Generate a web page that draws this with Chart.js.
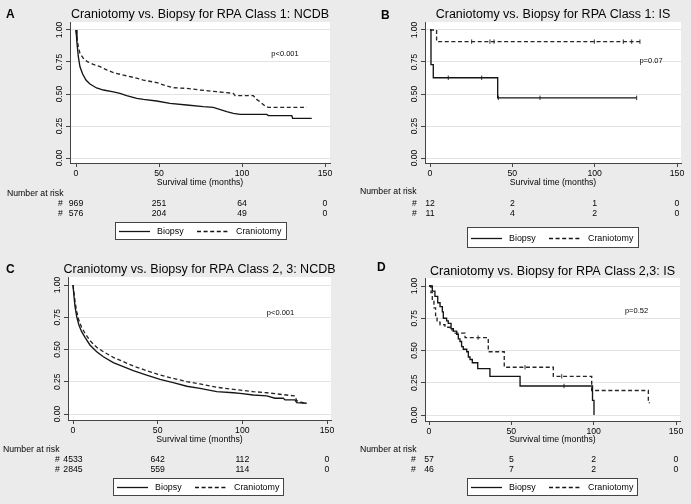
<!DOCTYPE html>
<html>
<head>
<meta charset="utf-8">
<script src="https://cdn.jsdelivr.net/npm/chart.js@4.4.1/dist/chart.umd.min.js"></script>
<style>
html, body { margin: 0; padding: 0; background: #ebebeb; }
#wrap { position: relative; width: 691px; height: 504px; overflow: hidden; }
canvas { position: absolute; }
</style>
</head>
<body>
<div id="wrap">
  <canvas id="pA" width="345" height="252" style="left:0;top:0"></canvas>
  <canvas id="pB" width="346" height="252" style="left:345px;top:0"></canvas>
  <canvas id="pC" width="345" height="252" style="left:0;top:252px"></canvas>
  <canvas id="pD" width="346" height="252" style="left:345px;top:252px"></canvas>
</div>
<script>
// shared axis ticks
const xTicks = [0, 50, 100, 150];
const yTicks = [0, 0.25, 0.5, 0.75, 1];
const seriesNames = ['Biopsy', 'Craniotomy'];

// Panel A - RPA class 1, NCDB
const aBiopsyT = [0, 0.6, 1.4, 2.4, 4.0, 6.0, 8.4, 12.4, 16.5, 22.5, 26.5, 30.5, 36.6, 40.6, 48.6, 56.6, 66.7, 76.7, 82.7, 90.8, 94.8, 98.8, 114.9, 115.9, 130, 130.5, 142];
const aBiopsyS = [1, 0.896, 0.792, 0.713, 0.656, 0.609, 0.578, 0.547, 0.531, 0.516, 0.505, 0.487, 0.466, 0.458, 0.445, 0.427, 0.414, 0.401, 0.396, 0.362, 0.349, 0.341, 0.341, 0.331, 0.331, 0.31, 0.31];
const aCranioT = [0, 0.6, 1.4, 2.4, 4.4, 6.8, 10.4, 14.5, 18.5, 22.5, 28.5, 34.5, 40.6, 48.6, 54.6, 58.6, 66.7, 74.7, 84.7, 94.8, 95.8, 106.8, 108.8, 110.8, 113.9, 115.9, 139];
const aCranioS = [1, 0.935, 0.87, 0.818, 0.779, 0.753, 0.732, 0.713, 0.688, 0.667, 0.648, 0.63, 0.609, 0.589, 0.563, 0.549, 0.544, 0.531, 0.518, 0.505, 0.487, 0.487, 0.458, 0.44, 0.406, 0.396, 0.396];
const aRisk = [[969, 251, 64, 0], [576, 204, 49, 0]];

// Panel B - RPA class 1, IS
const bBiopsyT = [0, 0.6, 2.0, 41.1, 125.5];
const bBiopsyS = [1, 0.73, 0.627, 0.47, 0.47];
const bBiopsyCensT = [11.1, 31.4, 41.5, 66.8, 125.5];
const bBiopsyCensS = [0.627, 0.627, 0.47, 0.47, 0.47];
const bCranioT = [0, 4.0, 127.5];
const bCranioS = [1, 0.909, 0.909];
const bCranioCensT = [25.3, 36.4, 38.9, 99.8, 117.4, 122.5, 127.5];
const bCranioCensS = [0.909, 0.909, 0.909, 0.909, 0.909, 0.909, 0.909];
const bRisk = [[12, 2, 1, 0], [11, 4, 2, 0]];

// Panel C - RPA class 2,3, NCDB
const cBiopsyT = [0, 0.6, 1.2, 2.2, 3.5, 5.1, 7.1, 10, 14, 17.9, 23.8, 29.7, 35.6, 43.5, 51.4, 59.2, 67.2, 75, 84.9, 94.7, 98.6, 106.5, 114.4, 119.3, 124.2, 125.2, 131.1, 132.1, 138];
const cBiopsyS = [1, 0.91, 0.832, 0.754, 0.69, 0.638, 0.594, 0.535, 0.483, 0.444, 0.398, 0.367, 0.336, 0.302, 0.269, 0.243, 0.215, 0.199, 0.173, 0.165, 0.16, 0.147, 0.14, 0.122, 0.122, 0.109, 0.109, 0.088, 0.083];
const cCranioT = [0, 0.6, 1.2, 2.2, 3.5, 5.1, 7.1, 10, 14, 17.9, 23.8, 29.7, 35.6, 43.5, 51.4, 59.2, 67.2, 75, 84.9, 94.7, 106.5, 114.4, 126.2, 131.1, 132.1, 135.7, 138];
const cCranioS = [1, 0.935, 0.871, 0.793, 0.724, 0.672, 0.625, 0.569, 0.517, 0.483, 0.439, 0.406, 0.372, 0.336, 0.302, 0.276, 0.251, 0.233, 0.207, 0.191, 0.173, 0.165, 0.147, 0.14, 0.103, 0.088, 0.083];
const cRisk = [[4533, 642, 112, 0], [2845, 559, 114, 0]];

// Panel D - RPA class 2,3, IS
const dBiopsyT = [0, 2.0, 3.6, 5.3, 6.7, 8.1, 8.7, 10.7, 11.7, 13.4, 14.8, 16.8, 17.8, 18.8, 19.8, 20.8, 22.9, 23.9, 24.9, 26.3, 29.6, 37.0, 55.3, 99.3, 100.2];
const dBiopsyS = [1, 0.96, 0.92, 0.87, 0.84, 0.8, 0.75, 0.73, 0.71, 0.67, 0.65, 0.625, 0.59, 0.57, 0.53, 0.51, 0.49, 0.45, 0.43, 0.405, 0.36, 0.30, 0.225, 0.113, 0];
const dBiopsyCensT = [82.0];
const dBiopsyCensS = [0.225];
const dCranioT = [0, 1.2, 2.0, 3.0, 4.0, 4.9, 6.7, 9.7, 12.8, 14.8, 21.9, 36.0, 45.7, 75.5, 98.8, 133.2, 134];
const dCranioS = [1, 0.95, 0.89, 0.83, 0.77, 0.72, 0.70, 0.68, 0.66, 0.635, 0.60, 0.49, 0.37, 0.30, 0.19, 0.095, 0.095];
const dCranioCensT = [29.8, 58.3, 80.6];
const dCranioCensS = [0.60, 0.37, 0.30];
const dRisk = [[57, 5, 2, 0], [46, 7, 2, 0]];

const FONT = '"Liberation Sans", Arial, Helvetica, sans-serif';
const INK = '#050505';

function curve(t, s, dashed, stepped) {
    return {
        data: t.map((v, i) => ({ x: v, y: s[i] })),
        borderColor: dashed ? '#262626' : '#151515',
        borderWidth: 1.35,
        borderDash: dashed ? [4, 2.6] : [],
        pointRadius: 0,
        stepped: stepped ? 'before' : false,
        tension: 0,
        fill: false
    };
}

function censor(t, s) {
    return {
        data: t.map((v, i) => ({ x: v, y: s[i] })),
        showLine: false,
        pointStyle: 'line',
        pointRotation: 90,
        pointRadius: 2.2,
        pointBorderWidth: 1,
        pointBorderColor: '#333',
        pointBackgroundColor: '#333'
    };
}

// draws the white plot area, rotated y labels, titles, risk table and legend
const decor = {
    id: 'decor',
    beforeDraw(chart) {
        const { ctx, chartArea: a } = chart;
        ctx.save();
        ctx.fillStyle = '#ffffff';
        ctx.fillRect(a.left, a.top, a.right - a.left, a.bottom - a.top);
        ctx.restore();
    },
    afterDraw(chart, args, o) {
        const ctx = chart.ctx, a = chart.chartArea;
        const xs = chart.scales.x, ys = chart.scales.y;
        const midX = (a.left + a.right) / 2;
        ctx.save();
        ctx.fillStyle = INK;
        ctx.textBaseline = 'middle';

        ctx.font = 'bold 12px ' + FONT;
        ctx.textAlign = 'left';
        ctx.fillText(o.letter, o.letterX, o.letterY);

        ctx.font = '12.5px ' + FONT;
        ctx.textAlign = 'center';
        ctx.fillText(o.title, midX, o.titleY);

        ctx.font = '8.5px ' + FONT;
        yTicks.forEach(v => {
            ctx.save();
            ctx.translate(a.left - 10.5, ys.getPixelForValue(v));
            ctx.rotate(-Math.PI / 2);
            ctx.fillText(v.toFixed(2), 0, 0);
            ctx.restore();
        });

        ctx.font = '8.7px ' + FONT;
        ctx.fillText('Survival time (months)', midX, o.xTitleY);

        ctx.font = '7.5px ' + FONT;
        ctx.fillText(o.p, o.pX, o.pY);

        // number at risk
        ctx.font = '8.7px ' + FONT;
        ctx.textAlign = 'left';
        ctx.fillText('Number at risk', o.riskX, o.riskY);
        ctx.textAlign = 'center';
        o.risk.forEach((row, i) => {
            const ry = o.rowY[i];
            ctx.fillText('#', xs.getPixelForValue(0) - 15.5, ry);
            row.forEach((n, j) => ctx.fillText(String(n), xs.getPixelForValue(xTicks[j]), ry));
        });

        // legend box
        const L = o.legend;
        ctx.fillStyle = '#ffffff';
        ctx.fillRect(L.x, L.y, L.w, L.h);
        ctx.strokeStyle = '#444';
        ctx.lineWidth = 1;
        ctx.strokeRect(L.x + 0.5, L.y + 0.5, L.w - 1, L.h - 1);
        const ly = Math.round(L.y + L.h / 2) + 0.5;
        ctx.strokeStyle = '#151515';
        ctx.lineWidth = 1.3;
        ctx.beginPath(); ctx.moveTo(L.x + 4, ly); ctx.lineTo(L.x + 35, ly); ctx.stroke();
        ctx.setLineDash([4, 2.6]);
        ctx.beginPath(); ctx.moveTo(L.x + 82, ly); ctx.lineTo(L.x + 115, ly); ctx.stroke();
        ctx.setLineDash([]);
        ctx.fillStyle = INK;
        ctx.textAlign = 'left';
        ctx.font = '8.9px ' + FONT;
        ctx.fillText(seriesNames[0], L.x + 42, ly);
        ctx.fillText(seriesNames[1], L.x + 121, ly);
        ctx.restore();
    }
};

function makePanel(id, datasets, p) {
    const canvas = document.getElementById(id);
    const W = canvas.width, H = canvas.height;
    // axis range from where 0/150 and 0/1 fall inside the white plot box
    const kx = (p.x150 - p.x0) / 150;
    const ky = p.y0 - p.y1;
    new Chart(canvas, {
        type: 'line',
        data: { datasets },
        plugins: [decor],
        options: {
            responsive: false,
            animation: false,
            events: [],
            layout: { padding: { left: 0, top: p.top, right: W - p.right, bottom: 0 } },
            plugins: {
                legend: { display: false },
                title: { display: false },
                tooltip: { enabled: false },
                decor: p
            },
            scales: {
                x: {
                    type: 'linear',
                    min: -(p.x0 - p.left) / kx,
                    max: 150 + (p.right - p.x150) / kx,
                    afterBuildTicks: s => { s.ticks = xTicks.map(v => ({ value: v })); },
                    afterFit: s => { s.height = H - p.bottom; },
                    grid: { drawOnChartArea: false, drawTicks: true, tickLength: 4, tickColor: '#444' },
                    border: { display: true, color: '#444', width: 1 },
                    ticks: { color: INK, font: { family: FONT, size: 8.7 }, padding: 1.5, maxRotation: 0 }
                },
                y: {
                    type: 'linear',
                    min: -(p.bottom - p.y0) / ky,
                    max: 1 + (p.y1 - p.top) / ky,
                    afterBuildTicks: s => { s.ticks = yTicks.map(v => ({ value: v })); },
                    afterFit: s => { s.width = p.left; },
                    grid: { color: '#e3e3e3', lineWidth: 1, drawTicks: true, tickLength: 4, tickColor: '#444' },
                    border: { display: true, color: '#444', width: 1 },
                    ticks: { display: false }
                }
            }
        }
    });
}

makePanel('pA', [
    curve(aBiopsyT, aBiopsyS, false, false),
    curve(aCranioT, aCranioS, true, false)
], {
    left: 70, right: 330, top: 22, bottom: 163, x0: 76, x150: 325, y1: 30, y0: 158,
    letter: 'A', letterX: 6, letterY: 14.5, title: 'Craniotomy vs. Biopsy for RPA Class 1: NCDB', titleY: 14.5,
    p: 'p<0.001', pX: 285, pY: 54, xTitleY: 183,
    riskX: 7, riskY: 194, rowY: [204, 214], risk: aRisk,
    legend: { x: 115, y: 222, w: 172, h: 18 }
});

makePanel('pB', [
    curve(bBiopsyT, bBiopsyS, false, true),
    curve(bCranioT, bCranioS, true, true),
    censor(bBiopsyCensT, bBiopsyCensS),
    censor(bCranioCensT, bCranioCensS)
], {
    left: 80, right: 336, top: 22, bottom: 163, x0: 85, x150: 332, y1: 30, y0: 158,
    letter: 'B', letterX: 36, letterY: 15.5, title: 'Craniotomy vs. Biopsy for RPA Class 1: IS', titleY: 15,
    p: 'p=0.07', pX: 306, pY: 61, xTitleY: 183,
    riskX: 15, riskY: 192, rowY: [203.5, 213.5], risk: bRisk,
    legend: { x: 122, y: 227, w: 172, h: 21 }
});

makePanel('pC', [
    curve(cBiopsyT, cBiopsyS, false, false),
    curve(cCranioT, cCranioS, true, false)
], {
    left: 68, right: 331, top: 25, bottom: 168, x0: 73, x150: 327, y1: 33, y0: 162,
    letter: 'C', letterX: 6, letterY: 17.5, title: 'Craniotomy vs. Biopsy for RPA Class 2, 3: NCDB', titleY: 18,
    p: 'p<0.001', pX: 280.5, pY: 61, xTitleY: 187.5,
    riskX: 3, riskY: 197.5, rowY: [207.5, 217.5], risk: cRisk,
    legend: { x: 113, y: 226, w: 171, h: 18 }
});

makePanel('pD', [
    curve(dBiopsyT, dBiopsyS, false, true),
    curve(dCranioT, dCranioS, true, true),
    censor(dBiopsyCensT, dBiopsyCensS),
    censor(dCranioCensT, dCranioCensS)
], {
    left: 80, right: 335, top: 26, bottom: 169, x0: 84, x150: 331, y1: 34, y0: 163,
    letter: 'D', letterX: 32, letterY: 15.5, title: 'Craniotomy vs. Biopsy for RPA Class 2,3: IS', titleY: 19.5,
    p: 'p=0.52', pX: 291.5, pY: 59, xTitleY: 188,
    riskX: 15, riskY: 198, rowY: [208, 217.5], risk: dRisk,
    legend: { x: 122, y: 226, w: 171, h: 18 }
});
</script>
</body>
</html>
